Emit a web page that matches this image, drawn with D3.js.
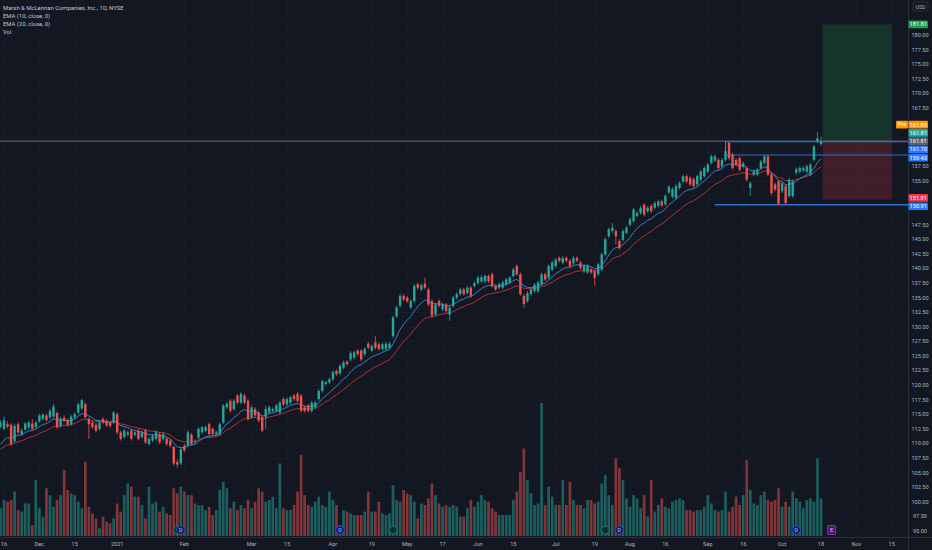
<!DOCTYPE html>
<html>
<head>
<meta charset="utf-8">
<title>MMC 1D</title>
<script src="https://d3js.org/d3.v7.min.js"></script>
<style>
  html, body { margin: 0; padding: 0; background: #131722; }
  svg { display: block; font-family: Roboto, "Liberation Sans", sans-serif; }
</style>
</head>
<body>
<svg id="chart" width="932" height="550"></svg>
<script>
// daily bars, bar -1 = 13 Nov 2020 ... bar 231 = 18 Oct 2021, rows are [open, high, low, close]
var firstBar = -1;
var ohlc = [
  [112.9,114.0,112.6,113.6],[112.5,114.6,112.3,114.0],[113.3,113.8,112.6,112.9],[113.2,113.5,109.6,109.9],
  [110.4,113.4,110.1,113.0],[113.3,113.6,111.5,111.9],[111.6,112.6,111.3,112.2],[112.4,113.7,112.1,113.4],
  [112.8,113.9,112.5,113.6],[113.4,114.2,112.2,112.5],[112.8,113.9,112.5,113.6],[113.8,115.1,113.5,114.8],
  [114.2,115.2,113.9,114.9],[114.8,115.1,113.7,114.0],[114.5,115.9,114.2,115.6],[114.6,116.8,114.3,116.3],
  [115.2,115.5,112.5,112.8],[113.0,114.6,112.7,114.3],[114.4,114.8,113.6,113.9],[114.0,114.3,112.9,113.2],
  [113.3,114.9,113.0,114.6],[114.5,115.3,114.2,115.0],[115.3,117.0,115.0,116.7],[116.0,117.7,115.7,117.4],
  [116.7,117.0,114.2,114.5],[114.2,114.5,110.8,113.3],[113.6,113.9,112.5,112.8],[113.2,113.5,111.9,112.2],
  [112.5,113.9,112.2,113.6],[114.2,114.5,113.3,113.6],[113.9,114.2,112.8,113.1],[113.6,113.9,112.7,113.0],
  [113.6,115.6,113.3,115.3],[115.0,115.3,111.6,111.9],[111.9,112.2,110.5,110.8],[111.1,112.5,110.8,112.2],
  [111.5,112.2,111.2,111.9],[112.2,112.5,110.5,110.8],[111.5,112.2,111.2,111.9],[112.2,112.5,110.5,110.8],
  [111.1,112.2,110.8,111.9],[112.2,112.5,109.9,110.2],[109.9,111.1,109.6,110.8],[110.5,111.6,110.2,111.3],
  [110.8,112.2,110.5,111.9],[111.6,111.9,109.9,110.2],[110.8,111.9,110.5,111.6],[110.8,111.1,109.6,109.9],
  [110.5,110.8,109.3,109.6],[109.4,109.6,106.2,106.6],[106.8,107.3,105.9,106.4],[106.6,109.3,106.3,109.0],
  [109.6,109.9,108.5,108.8],[109.6,112.2,109.3,111.9],[111.5,111.8,109.6,109.9],[110.2,110.7,109.9,110.4],
  [111.0,112.8,110.7,112.5],[111.9,113.0,111.6,112.8],[112.2,113.1,111.9,112.8],[113.3,113.6,111.3,111.6],
  [112.5,112.8,111.3,111.6],[111.6,112.2,111.3,111.9],[111.6,113.6,111.3,113.3],[113.6,116.8,113.3,116.5],
  [116.2,117.1,115.9,116.8],[117.3,117.6,115.3,115.6],[115.9,117.6,115.6,117.3],[118.2,118.5,116.7,117.0],
  [117.0,118.8,116.7,118.5],[118.2,118.5,116.7,117.0],[117.3,117.6,113.9,114.2],[114.5,116.5,114.2,116.2],
  [115.9,116.2,114.5,114.8],[115.3,115.6,113.6,113.9],[114.5,114.8,111.9,112.2],[114.5,116.5,112.5,115.9],
  [115.3,116.5,115.0,116.2],[115.6,116.2,115.3,115.9],[115.6,116.8,115.3,116.5],[115.3,117.3,115.0,117.0],
  [117.6,117.9,116.4,116.7],[116.7,117.9,116.4,117.6],[117.0,118.2,116.7,117.9],[118.2,118.5,117.3,117.6],
  [118.5,118.8,117.0,117.3],[118.2,118.5,115.3,115.6],[116.2,116.5,115.3,115.6],[116.5,116.8,115.3,115.6],
  [115.6,117.3,115.3,117.0],[116.2,117.3,115.9,117.0],[117.6,119.3,117.3,119.0],[119.0,121.0,118.7,120.7],
  [120.2,120.8,119.9,120.5],[120.5,121.3,120.2,121.0],[121.0,122.5,120.7,122.2],[122.4,122.7,121.6,121.9],
  [122.0,123.6,121.7,123.3],[123.0,124.2,122.7,123.9],[124.0,124.3,123.3,123.6],[124.4,125.8,124.1,125.5],
  [124.7,125.9,124.4,125.6],[125.9,126.2,125.0,125.3],[125.9,126.2,124.1,124.4],[125.3,126.5,125.0,126.2],
  [127.1,127.4,126.1,126.4],[125.9,127.0,125.6,126.7],[127.3,128.4,126.1,126.4],[127.0,127.3,125.9,126.2],
  [126.2,127.3,125.9,127.0],[126.2,127.4,125.9,127.1],[126.4,127.4,126.1,127.1],[128.4,131.9,128.1,131.6],
  [131.8,133.6,131.5,133.3],[133.6,135.6,133.3,135.3],[135.3,135.6,134.4,134.7],[135.0,135.3,134.1,134.4],
  [133.3,134.7,133.0,134.4],[134.4,137.3,134.1,137.0],[137.3,137.6,136.4,136.7],[136.4,137.4,136.1,137.1],
  [137.4,138.4,136.4,136.7],[136.4,136.7,133.5,133.8],[134.4,134.7,131.6,131.9],[132.1,134.1,131.8,133.8],
  [134.4,134.7,133.3,133.6],[133.0,134.1,132.7,133.8],[133.8,134.1,132.4,132.7],[132.1,133.6,131.0,133.3],
  [133.6,135.3,133.3,135.0],[135.0,135.9,134.7,135.6],[135.6,136.7,135.3,136.4],[136.4,136.7,135.3,135.6],
  [135.8,137.0,135.5,136.7],[136.7,137.0,135.0,135.3],[137.0,137.8,136.7,137.5],[137.5,138.7,137.2,138.4],
  [137.8,138.8,137.5,138.5],[137.8,139.0,137.5,138.7],[138.7,139.0,137.5,137.8],[139.0,139.3,136.7,137.0],
  [137.0,137.3,136.1,136.4],[136.7,137.6,136.4,137.3],[136.7,137.9,136.4,137.6],[137.3,138.4,137.0,138.1],
  [137.6,138.7,137.3,138.4],[138.7,140.1,138.4,139.8],[140.4,140.7,138.7,139.0],[139.0,139.3,135.3,135.6],
  [135.3,135.6,133.3,133.9],[134.4,136.1,134.1,135.8],[135.6,136.7,135.3,136.4],[136.1,137.5,135.8,137.2],
  [136.1,137.9,135.8,137.6],[137.3,139.3,137.0,139.0],[139.0,139.3,137.8,138.1],[138.4,140.7,138.1,140.4],
  [139.8,141.3,139.5,141.0],[140.4,141.8,140.1,141.5],[141.8,142.1,141.0,141.3],[141.0,142.1,140.7,141.8],
  [141.8,142.1,141.0,141.3],[141.3,141.6,140.1,140.4],[140.9,142.1,140.6,141.8],[141.8,142.1,141.0,141.3],
  [141.0,141.3,139.8,140.1],[139.5,140.7,139.2,140.4],[139.3,140.7,139.0,140.4],[139.8,140.1,139.0,139.3],
  [139.5,139.8,137.0,138.4],[139.0,141.0,138.7,140.7],[139.8,142.7,139.5,142.4],[142.4,145.3,142.1,145.0],
  [145.5,147.0,145.2,146.7],[146.4,147.8,146.1,147.0],[146.4,146.7,144.1,145.5],[144.7,145.0,143.2,143.5],
  [144.9,146.7,144.6,146.4],[146.1,147.3,145.8,147.0],[147.5,148.7,147.2,148.4],[148.1,150.4,147.8,150.1],
  [149.0,149.8,148.7,149.5],[149.5,150.7,149.2,150.4],[150.9,151.2,148.9,149.2],[149.8,150.7,149.5,150.4],
  [150.7,151.0,149.5,149.8],[150.4,151.5,150.1,151.2],[150.7,151.8,150.4,151.5],[151.5,151.8,150.5,150.8],
  [151.0,152.7,150.7,152.4],[153.0,154.3,152.7,154.0],[152.3,153.9,152.0,153.6],[152.1,154.4,151.8,154.1],
  [153.8,154.9,153.5,154.6],[154.9,156.1,154.6,155.8],[155.8,156.1,154.6,154.9],[155.5,155.8,154.1,154.4],
  [155.3,155.6,153.8,154.1],[154.4,156.1,154.1,155.8],[155.2,156.9,154.9,156.6],[155.8,157.5,155.5,157.2],
  [156.6,158.1,156.3,157.8],[158.1,159.5,157.8,159.2],[158.5,159.5,158.2,159.2],[158.6,158.9,156.9,157.2],
  [157.5,158.9,157.2,158.6],[158.6,161.8,158.3,160.1],[161.5,161.8,158.5,158.9],[159.5,159.8,156.9,157.2],
  [158.6,158.9,157.5,157.8],[158.9,159.2,156.6,156.9],[157.4,158.3,157.1,158.0],[157.2,157.5,154.9,155.2],
  [153.8,154.9,152.4,154.6],[156.1,156.9,155.8,156.6],[156.1,157.2,155.8,156.9],[157.2,158.6,156.9,158.3],
  [158.1,159.5,157.8,159.2],[159.2,159.5,155.8,156.1],[156.1,156.4,152.6,152.9],[154.4,154.7,153.2,153.5],
  [154.9,155.2,150.9,151.1],[153.2,154.9,152.9,154.6],[154.1,154.4,150.9,151.2],[152.4,155.5,152.1,155.2],
  [152.4,155.2,152.1,154.9],[156.4,157.3,156.1,157.0],[156.6,157.5,156.3,157.2],[156.8,157.5,156.5,157.2],
  [156.6,157.8,156.3,157.5],[156.1,158.1,155.8,157.8],[158.6,161.2,158.3,160.9],[161.8,163.3,161.5,162.3],
  [161.3,162.6,161.0,161.81]
];

// volume in millions of shares, same bars
var volume = [
  1.26,1.64,1.56,1.64,2.02,1.18,1.11,1.48,1.48,0.50,2.55,1.26,0.88,2.17,1.86,1.33,1.64,1.86,3.00,2.09,
  1.94,1.86,1.56,1.26,3.38,1.33,1.03,0.80,0.35,0.88,0.65,0.58,0.80,1.48,1.11,1.86,2.39,2.24,1.79,1.79,
  1.41,0.80,2.24,1.48,1.56,1.11,1.33,1.03,0.95,2.17,1.94,2.24,2.02,1.86,1.86,1.48,1.41,1.41,1.18,1.33,
  0.95,1.18,2.09,2.47,2.17,1.26,1.56,1.18,1.41,1.26,1.64,1.26,1.56,2.17,2.02,1.56,1.64,1.79,1.26,3.30,
  1.26,1.18,1.18,1.41,2.02,3.68,1.86,1.41,1.33,1.56,1.79,1.41,1.33,2.02,1.64,1.41,0.50,1.18,1.11,1.03,
  0.95,0.95,0.95,1.11,2.02,1.11,1.11,1.56,1.03,0.95,1.03,2.32,1.64,1.56,2.09,1.94,1.86,1.56,0.80,1.48,
  1.41,1.71,2.39,1.86,1.48,1.33,1.41,1.33,1.41,1.33,0.88,0.88,1.26,1.64,1.33,1.56,1.86,1.64,1.56,1.26,
  1.11,0.95,0.95,0.95,0.95,1.64,2.02,2.92,3.98,2.55,1.94,1.41,1.48,6.05,1.41,2.24,1.79,1.41,1.41,2.55,
  1.41,2.47,1.64,1.41,1.41,1.26,1.64,1.64,1.48,1.56,2.39,2.77,1.86,1.41,3.53,3.08,2.55,1.71,1.33,1.86,
  1.71,1.26,1.86,0.88,2.55,1.11,1.41,1.71,1.33,1.26,1.56,1.64,1.71,1.64,1.18,1.18,1.11,1.18,1.18,1.33,
  1.86,1.48,1.18,1.11,1.18,2.02,1.11,1.33,1.79,1.41,1.86,3.45,2.09,1.48,1.41,1.86,2.02,1.64,1.56,1.64,
  2.17,1.33,1.56,1.33,2.02,1.71,1.56,1.26,1.64,1.71,1.56,3.53,1.71
];

// EMA values just before the first visible bar
var ema10Seed = 109.0;
var ema20Seed = 108.5;

// time axis labels, by bar number
var timeTicks = [
  [0, "16"], [10, "Dec"], [20, "15"], [32, "2021"], [51, "Feb"], [70, "Mar"], [80, "15"],
  [93, "Apr"], [104, "19"], [114, "May"], [124, "17"], [134, "Jun"], [144, "15"], [156, "Jul"],
  [167, "19"], [177, "Aug"], [187, "16"], [199, "Sep"], [209, "16"], [220, "Oct"], [231, "18"],
  [241, "Nov"], [251, "15"]
];
var priceTicks = d3.range(95, 185, 2.5);

// earnings / dividend markers on the time scale
var earningsBars = [49, 110, 170];
var dividendBars = [50, 95, 174, 224];
var nextEarningsBar = 234;

// long position tool
var entryPrice = 161.81;
var targetPrice = 181.81;
var stopPrice = 151.81;
var positionBars = [231.5, 251];

// drawings
var levelPrice = 161.81;
var boxBar = 204, boxTop = 161.70, boxBottom = 159.43;
var supportBar = 201, supportPrice = 150.91;
var lastPrice = 161.81, prePrice = 161.89;

var upColor = "#26a69a", downColor = "#ef5350";
var paneRight = 908, paneBottom = 537;

var svg = d3.select("#chart");

var x = d3.scaleLinear().domain([0, 231]).range([4, 821]);
var y = d3.scaleLinear().domain([95, 180]).range([531, 35]);
var yVol = d3.scaleLinear().domain([0, 6.05]).range([536, 403]);

var bars = ohlc.map(function (r, k) {
  return { i: firstBar + k, o: r[0], h: r[1], l: r[2], c: r[3], v: volume[k] };
});

// EMA(10) and EMA(20) of close
var e10 = ema10Seed, e20 = ema20Seed;
bars.forEach(function (b) {
  e10 = e10 + (b.c - e10) * 2 / 11;
  e20 = e20 + (b.c - e20) * 2 / 21;
  b.ema10 = e10;
  b.ema20 = e20;
});

svg.append("rect").attr("width", 932).attr("height", 550).attr("fill", "#131722");

svg.append("defs").append("clipPath").attr("id", "pane")
  .append("rect").attr("x", 0).attr("y", 0).attr("width", paneRight).attr("height", paneBottom);

var pane = svg.append("g").attr("clip-path", "url(#pane)");

// grid
pane.selectAll("line.hgrid")
  .data(priceTicks).enter()
  .append("line")
  .attr("x1", 0).attr("x2", paneRight)
  .attr("y1", function (d) { return Math.round(y(d)) + 0.5; })
  .attr("y2", function (d) { return Math.round(y(d)) + 0.5; })
  .attr("stroke", "#181c27").attr("stroke-width", 1);
pane.selectAll("line.vgrid")
  .data(timeTicks).enter()
  .append("line")
  .attr("y1", 0).attr("y2", paneBottom)
  .attr("x1", function (d) { return Math.round(x(d[0])) + 0.5; })
  .attr("x2", function (d) { return Math.round(x(d[0])) + 0.5; })
  .attr("stroke", "#181c27").attr("stroke-width", 1);

// volume
pane.selectAll("rect.vol")
  .data(bars).enter()
  .append("rect")
  .attr("x", function (d) { return x(d.i) - 1.35; })
  .attr("width", 2.7)
  .attr("y", function (d) { return yVol(d.v); })
  .attr("height", function (d) { return yVol(0) - yVol(d.v); })
  .attr("fill", function (d) { return d.c >= d.o ? upColor : downColor; })
  .attr("fill-opacity", 0.5);

// long position
var px0 = x(positionBars[0]), px1 = x(positionBars[1]);
pane.append("rect")
  .attr("x", px0).attr("width", px1 - px0)
  .attr("y", y(targetPrice)).attr("height", y(entryPrice) - y(targetPrice))
  .attr("fill", "rgba(34,171,71,0.2)");
pane.append("rect")
  .attr("x", px0).attr("width", px1 - px0)
  .attr("y", y(entryPrice)).attr("height", y(stopPrice) - y(entryPrice))
  .attr("fill", "rgba(242,54,69,0.2)");

// horizontal level and rectangle drawings
pane.append("line")
  .attr("x1", 0).attr("x2", paneRight)
  .attr("y1", y(levelPrice)).attr("y2", y(levelPrice))
  .attr("stroke", "#9598a1").attr("stroke-opacity", 0.7).attr("stroke-width", 1);
pane.append("rect")
  .attr("x", x(boxBar)).attr("width", paneRight - x(boxBar) + 2)
  .attr("y", y(boxTop)).attr("height", y(boxBottom) - y(boxTop))
  .attr("fill", "none").attr("stroke", "#2f6fd6").attr("stroke-width", 1);
pane.append("line")
  .attr("x1", x(supportBar)).attr("x2", paneRight)
  .attr("y1", y(supportPrice)).attr("y2", y(supportPrice))
  .attr("stroke", "#2f6fd6").attr("stroke-width", 1.3);

// EMAs
var emaLine = function (key) {
  return d3.line()
    .x(function (d) { return x(d.i); })
    .y(function (d) { return y(d[key]); });
};
pane.append("path").datum(bars)
  .attr("d", emaLine("ema20"))
  .attr("fill", "none").attr("stroke", "#c2333d").attr("stroke-width", 0.9);
pane.append("path").datum(bars)
  .attr("d", emaLine("ema10"))
  .attr("fill", "none").attr("stroke", "#3d8be8").attr("stroke-width", 0.9);

// candles
var candle = pane.selectAll("g.candle")
  .data(bars).enter()
  .append("g");
candle.append("line")
  .attr("x1", function (d) { return x(d.i); })
  .attr("x2", function (d) { return x(d.i); })
  .attr("y1", function (d) { return y(d.h); })
  .attr("y2", function (d) { return y(d.l); })
  .attr("stroke", function (d) { return d.c >= d.o ? upColor : downColor; })
  .attr("stroke-width", 0.8);
candle.append("rect")
  .attr("x", function (d) { return x(d.i) - 1.2; })
  .attr("width", 2.4)
  .attr("y", function (d) { return y(Math.max(d.o, d.c)); })
  .attr("height", function (d) { return Math.max(0.7, Math.abs(y(d.o) - y(d.c))); })
  .attr("fill", function (d) { return d.c >= d.o ? upColor : downColor; });

// event markers
var markY = 530;
pane.selectAll("g.earn")
  .data(earningsBars).enter()
  .append("g")
  .each(function (d) {
    var g = d3.select(this);
    g.append("circle").attr("cx", x(d)).attr("cy", markY).attr("r", 4.2)
      .attr("fill", "#0f3a33").attr("stroke", "#1f8f80").attr("stroke-width", 0.8);
    g.append("text").attr("x", x(d)).attr("y", markY + 2)
      .attr("text-anchor", "middle").attr("font-size", 5.5).attr("font-weight", 700)
      .attr("fill", "#0a1f1c").text("E");
  });
pane.selectAll("g.div")
  .data(dividendBars).enter()
  .append("g")
  .each(function (d) {
    var g = d3.select(this);
    g.append("circle").attr("cx", x(d)).attr("cy", markY).attr("r", 4.2)
      .attr("fill", "#16205a").attr("stroke", "#2d4fd6").attr("stroke-width", 0.8);
    g.append("text").attr("x", x(d)).attr("y", markY + 2)
      .attr("text-anchor", "middle").attr("font-size", 5.5).attr("font-weight", 700)
      .attr("fill", "#6f8cff").text("D");
  });
pane.append("rect")
  .attr("x", x(nextEarningsBar) - 4).attr("y", markY - 4.5)
  .attr("width", 8).attr("height", 9).attr("rx", 1)
  .attr("fill", "#4a1766").attr("stroke", "#a533d6").attr("stroke-width", 0.8);
pane.append("text")
  .attr("x", x(nextEarningsBar)).attr("y", markY + 2)
  .attr("text-anchor", "middle").attr("font-size", 5.5).attr("font-weight", 700)
  .attr("fill", "#d58cf2").text("E");

// axis borders
svg.append("line").attr("x1", paneRight + 0.5).attr("x2", paneRight + 0.5)
  .attr("y1", 0).attr("y2", 550).attr("stroke", "#2a2e39");
svg.append("line").attr("x1", 0).attr("x2", 932)
  .attr("y1", paneBottom + 0.5).attr("y2", paneBottom + 0.5).attr("stroke", "#2a2e39");

// price labels on the axis, stacked where they overlap
var labels = [
  { price: targetPrice, color: "#1f9e45" },
  { price: prePrice, color: "#ff9800", pre: true },
  { price: lastPrice, color: "#26a69a" },
  { price: levelPrice, color: "#5d606b" },
  { price: boxTop, color: "#2979ff" },
  { price: boxBottom, color: "#2979ff" },
  { price: stopPrice, color: "#f23645" },
  { price: supportPrice, color: "#2979ff" }
];
var labelH = 8.3;
labels.forEach(function (l) { l.y = y(l.price); });
var groups = labels.map(function (l) { return [l]; });
function placeGroup(g) {
  var m = d3.median(g, function (l) { return l.y; });
  var start = m - (g.length - 1) * labelH / 2;
  g.forEach(function (l, k) { l.py = start + k * labelH; });
}
var merged = true;
while (merged) {
  merged = false;
  groups.forEach(placeGroup);
  for (var k = 0; k < groups.length - 1; k++) {
    var a = groups[k], b = groups[k + 1];
    if (b[0].py - a[a.length - 1].py < labelH) {
      groups.splice(k, 2, a.concat(b));
      merged = true;
      break;
    }
  }
}

// price axis, ticks hidden behind the price labels are left out
var shownTicks = priceTicks.filter(function (t) {
  return labels.every(function (l) { return Math.abs(y(t) - l.py) > labelH / 2 + 2.6; });
});
svg.selectAll("text.ptick")
  .data(shownTicks).enter()
  .append("text")
  .attr("x", 920).attr("y", function (d) { return y(d); })
  .attr("dy", "0.35em")
  .attr("text-anchor", "middle")
  .attr("font-size", 5.6)
  .attr("fill", "#b2b5be")
  .text(d3.format(".2f"));

// time axis
svg.selectAll("text.ttick")
  .data(timeTicks).enter()
  .append("text")
  .attr("x", function (d) { return x(d[0]); })
  .attr("y", 545.5)
  .attr("text-anchor", "middle")
  .attr("font-size", 5.6)
  .attr("fill", "#b2b5be")
  .text(function (d) { return d[1]; });

var lab = svg.selectAll("g.plabel")
  .data(labels).enter()
  .append("g");
lab.append("rect")
  .attr("x", paneRight + 0.5).attr("width", 19.5)
  .attr("y", function (d) { return d.py - labelH / 2 + 0.3; })
  .attr("height", labelH - 0.6)
  .attr("rx", 1)
  .attr("fill", function (d) { return d.color; });
lab.append("text")
  .attr("x", paneRight + 10.2)
  .attr("y", function (d) { return d.py; })
  .attr("dy", "0.35em")
  .attr("text-anchor", "middle")
  .attr("font-size", 5.6)
  .attr("fill", "#ffffff")
  .text(function (d) { return d3.format(".2f")(d.price); });

var pre = labels.filter(function (l) { return l.pre; })[0];
svg.append("rect")
  .attr("x", paneRight - 12).attr("width", 12)
  .attr("y", pre.py - labelH / 2 + 0.3).attr("height", labelH - 0.6)
  .attr("rx", 1).attr("fill", "#ff9800");
svg.append("text")
  .attr("x", paneRight - 6).attr("y", pre.py).attr("dy", "0.35em")
  .attr("text-anchor", "middle").attr("font-size", 5.4)
  .attr("fill", "#ffffff").text("Pre");

// currency button
svg.append("rect")
  .attr("x", 913).attr("y", 2).attr("width", 15).attr("height", 9).attr("rx", 2)
  .attr("fill", "none").attr("stroke", "#363a45").attr("stroke-width", 0.7);
svg.append("text")
  .attr("x", 920.5).attr("y", 8.6)
  .attr("text-anchor", "middle").attr("font-size", 5.2)
  .attr("fill", "#b2b5be").text("USD");

// legend
var legend = [
  "Marsh & McLennan Companies, Inc., 1D, NYSE",
  "EMA (10, close, 0)",
  "EMA (20, close, 0)",
  "Vol"
];
svg.selectAll("text.legend")
  .data(legend).enter()
  .append("text")
  .attr("x", 3)
  .attr("y", function (d, k) { return 9.5 + k * 8; })
  .attr("font-size", 5.9)
  .attr("fill", "#c3c6ce")
  .text(function (d) { return d; });
</script>
</body>
</html>
